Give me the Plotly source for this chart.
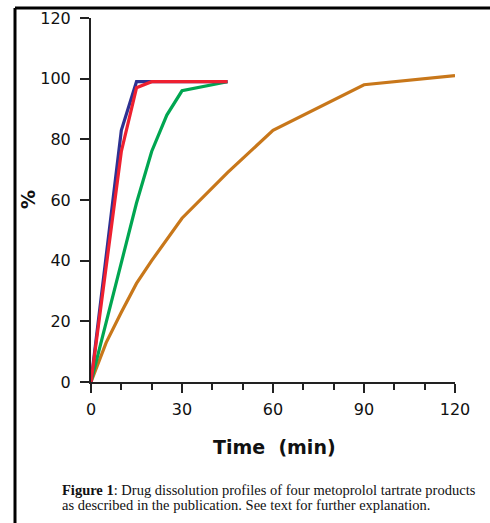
import plotly.graph_objects as go

# Data (time in minutes, % dissolved)
t_blue = [0, 5, 10, 15, 20, 30, 45]
v_blue = [0, 42, 83, 99, 99, 99, 99]

t_red = [0, 5, 10, 15, 20, 30, 45]
v_red = [0, 38, 76, 97, 99, 99, 99]

t_green = [0, 5, 10, 15, 20, 25, 30, 45]
v_green = [0, 20, 40, 59, 76, 88, 96, 99]

t_orange = [0, 5, 10, 15, 20, 30, 45, 60, 90, 120]
v_orange = [0, 13, 23, 32.5, 40, 54, 69, 83, 98, 101]

x_major_ticks = [0, 30, 60, 90, 120]
y_ticks = [0, 20, 40, 60, 80, 100, 120]

x_title = "Time  (min)"
y_title = "%"
caption_1 = "<b>Figure 1</b>: Drug dissolution profiles of four metoprolol tartrate products"
caption_2 = "as described in the publication. See text for further explanation."

colors = {"blue": "#2E3192", "red": "#EE2030", "green": "#00A651", "orange": "#C8771A"}

fig = go.Figure()
for (t, v, c) in [(t_orange, v_orange, colors["orange"]),
                  (t_green, v_green, colors["green"]),
                  (t_blue, v_blue, colors["blue"]),
                  (t_red, v_red, colors["red"])]:
    fig.add_trace(go.Scatter(x=t, y=v, mode="lines",
                             line=dict(color=c, width=3.2), showlegend=False))

L, R, T, B = 91, 35, 18, 141
W, H = 490, 523
pw, ph = W - L - R, H - T - B

def px_x(p):
    return (p - L) / pw

def px_y(p):
    return (H - B - p) / ph

tickfont = dict(family="DejaVu Sans", size=16, color="#111")
titlefont = dict(family="DejaVu Sans", size=19, color="#111")
capfont = dict(family="Liberation Serif", size=14.5, color="#111")

fig.update_layout(
    width=W, height=H,
    margin=dict(l=L, r=R, t=T, b=B, pad=0, autoexpand=False),
    paper_bgcolor="white", plot_bgcolor="white",
    xaxis=dict(range=[0, 120], tickvals=x_major_ticks, showgrid=False, zeroline=False,
               automargin=False,
               showline=True, linecolor="#222", linewidth=2,
               ticks="outside", ticklen=9, tickwidth=2, tickcolor="#222",
               tickfont=tickfont, ticklabelstandoff=3,
               minor=dict(dtick=10, ticks="outside", ticklen=6, tickwidth=2, tickcolor="#222", showgrid=False)),
    yaxis=dict(range=[0, 120], tickvals=y_ticks, showgrid=False, zeroline=False,
               automargin=False,
               showline=True, linecolor="#222", linewidth=2,
               ticks="outside", ticklen=9, tickwidth=2, tickcolor="#222",
               tickfont=tickfont, ticklabelstandoff=6),
    shapes=[
        dict(type="line", xref="paper", yref="paper", x0=px_x(15), x1=px_x(15), y0=px_y(8), y1=px_y(523),
             line=dict(color="black", width=3)),
        dict(type="line", xref="paper", yref="paper", x0=px_x(15), x1=px_x(490), y0=px_y(8), y1=px_y(8),
             line=dict(color="black", width=3)),
    ],
    annotations=[
        dict(xref="paper", yref="paper", x=px_x(274), y=px_y(447), xanchor="center", yanchor="middle",
             showarrow=False, text="<b>" + x_title + "</b>", font=titlefont),
        dict(xref="paper", yref="paper", x=px_x(28), y=px_y(200), xanchor="center", yanchor="middle",
             showarrow=False, textangle=-90, text="<b>" + y_title + "</b>", font=titlefont),
        dict(xref="paper", yref="paper", x=px_x(60), y=px_y(490), xanchor="left", yanchor="middle",
             align="left", showarrow=False, text=caption_1, font=capfont),
        dict(xref="paper", yref="paper", x=px_x(60), y=px_y(505), xanchor="left", yanchor="middle",
             align="left", showarrow=False, text=caption_2, font=capfont),
    ],
)

fig.write_html("out.html", config={"displayModeBar": False},
               post_script="document.body.style.margin='0';")
